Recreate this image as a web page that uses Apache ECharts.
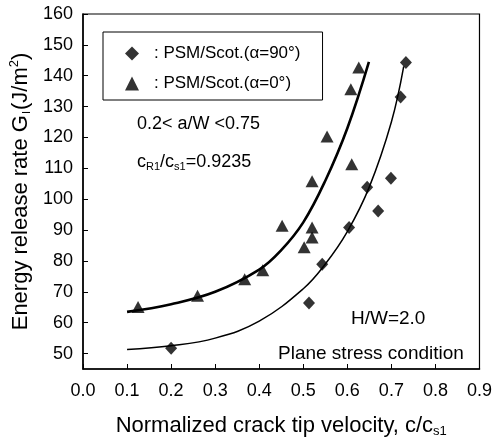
<!DOCTYPE html>
<html>
<head>
<meta charset="utf-8">
<script src="https://cdn.jsdelivr.net/npm/echarts@6/dist/echarts.min.js"></script>
<style>
	html, body { margin: 0; padding: 0; background: #fff; }
	#chart { width: 495px; height: 443px; }
</style>
</head>
<body>
<div id="chart"></div>
<script>
	// measured points, alpha = 90 deg (diamonds)
	const diamondX = [0.2, 0.513, 0.543, 0.604, 0.645, 0.67, 0.699, 0.721, 0.733]
	const diamondY = [51.7, 66.4, 78.9, 90.8, 103.9, 96.2, 106.8, 133.1, 144.3]
	// measured points, alpha = 0 deg (triangles)
	const triangleX = [0.125, 0.26, 0.367, 0.408, 0.452, 0.502, 0.52, 0.52, 0.52, 0.554, 0.61, 0.608, 0.626]
	const triangleY = [65.1, 68.7, 74.1, 77.0, 91.4, 84.4, 87.6, 90.8, 105.8, 120.3, 111.3, 135.6, 142.7]
	// fitted curves
	const fit90X = [0.1, 0.2, 0.3, 0.4, 0.5, 0.55, 0.6, 0.65, 0.7, 0.728]
	const fit90Y = [51.3, 52.5, 55.0, 60.5, 71.0, 79.0, 89.5, 104.0, 125.0, 143.0]
	const fit0X = [0.1, 0.2, 0.3, 0.4, 0.45, 0.5, 0.55, 0.6, 0.649]
	const fit0Y = [63.5, 66.0, 70.0, 77.2, 83.5, 92.5, 106.0, 123.0, 144.5]
	const yTicks = [50, 60, 70, 80, 90, 100, 110, 120, 130, 140, 150, 160]
	const seriesNames = ['PSM/Scot.(α=90°)', 'PSM/Scot.(α=0°)']

	const zip = (xs, ys) => xs.map((x, i) => [x, ys[i]])
	const font = 'Liberation Sans, Arial, sans-serif'

	const chart = echarts.init(document.getElementById('chart'))
	const option = {
		backgroundColor: '#fff',
		animation: false,
		textStyle: { fontFamily: font, color: '#000' },
		grid: {
			left: 83, right: 13, top: 14, bottom: 70,
			show: true, borderColor: '#000', borderWidth: 1.2
		},
		legend: {
			data: seriesNames,
			orient: 'vertical',
			left: 103, top: 32,
			padding: [13, 22, 8, 22],
			itemGap: 13,
			itemWidth: 14, itemHeight: 14,
			borderColor: '#000', borderWidth: 1,
			formatter: ': {name}',
			textStyle: { fontSize: 17, lineHeight: 17, color: '#000', fontFamily: font, padding: [0, 0, 0, 10] }
		},
		xAxis: {
			type: 'value',
			min: 0, max: 0.9, interval: 0.1,
			name: '{a|Normalized crack tip velocity, c/c}{s|s1}',
			nameLocation: 'middle',
			nameGap: 44,
			nameTextStyle: {
				rich: {
					a: { fontSize: 22, fontFamily: font, color: '#000' },
					s: { fontSize: 13, fontFamily: font, color: '#000', padding: [12, 0, 0, 0] }
				}
			},
			axisLine: { lineStyle: { color: '#000', width: 1.5 } },
			axisTick: { inside: true, length: 5, lineStyle: { color: '#000' } },
			axisLabel: { fontSize: 18, color: '#000', margin: 13, formatter: v => v.toFixed(1) },
			splitLine: { show: false }
		},
		yAxis: {
			type: 'value',
			min: 45, max: 160,
			name: '{a|Energy release rate G}{s|I}{a|(J/m}{p|2}{a|)}',
			nameLocation: 'middle',
			nameGap: 48,
			nameTextStyle: {
				rich: {
					a: { fontSize: 22, fontFamily: font, color: '#000' },
					s: { fontSize: 11, fontFamily: font, color: '#000', padding: [12, 1, 0, 1] },
					p: { fontSize: 13, fontFamily: font, color: '#000', padding: [0, 0, 12, 0] }
				}
			},
			axisLine: { lineStyle: { color: '#000', width: 1.5 } },
			axisTick: { inside: true, length: 5, customValues: yTicks, lineStyle: { color: '#000' } },
			axisLabel: { fontSize: 18, color: '#000', margin: 10, customValues: yTicks },
			splitLine: { show: false }
		},
		graphic: [
			{ type: 'text', left: 137, top: 115, style: { text: '0.2< a/W <0.75', font: '18px ' + font, fill: '#000' } },
			{
				type: 'text', left: 137, top: 153,
				style: {
					text: '{a|c}{s|R1}{a|/c}{s|s1}{a|=0.9235}',
					fill: '#000',
					rich: {
						a: { fontSize: 18, fontFamily: font },
						s: { fontSize: 11, fontFamily: font, padding: [10, 0, 0, 0] }
					}
				}
			},
			{ type: 'text', left: 351, top: 309, style: { text: 'H/W=2.0', font: '19px ' + font, fill: '#000' } },
			{ type: 'text', left: 278, top: 344, style: { text: 'Plane stress condition', font: '19px ' + font, fill: '#000' } }
		],
		series: [
			{
				name: seriesNames[0],
				type: 'scatter',
				symbol: 'diamond',
				symbolSize: [12, 13],
				itemStyle: { color: '#000' },
				data: zip(diamondX, diamondY),
				z: 3
			},
			{
				name: seriesNames[1],
				type: 'scatter',
				symbol: 'triangle',
				symbolSize: [13, 12],
				itemStyle: { color: '#000' },
				data: zip(triangleX, triangleY),
				z: 3
			},
			{
				name: 'fit90',
				type: 'line',
				smooth: 0.4,
				showSymbol: false,
				lineStyle: { color: '#000', width: 1.5 },
				data: zip(fit90X, fit90Y),
				silent: true
			},
			{
				name: 'fit0',
				type: 'line',
				smooth: 0.4,
				showSymbol: false,
				lineStyle: { color: '#000', width: 2.6 },
				data: zip(fit0X, fit0Y),
				silent: true
			}
		]
	}
	chart.setOption(option)
</script>
</body>
</html>
